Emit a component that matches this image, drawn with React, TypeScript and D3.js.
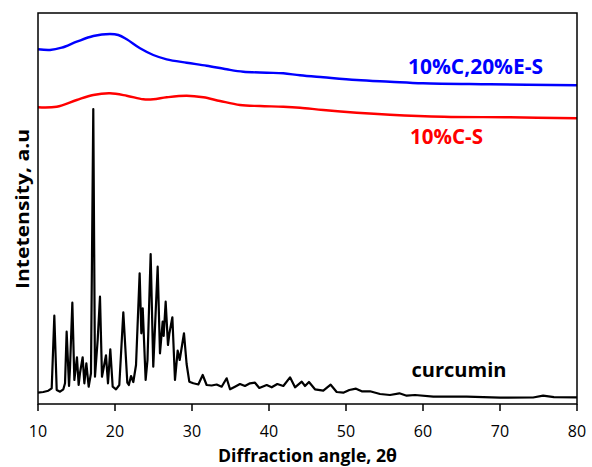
import React from "react";
import * as d3 from "d3";

const xTicks = [10, 20, 30, 40, 50, 60, 70, 80];

const curcumin2Theta = [
  10.0, 10.69, 11.34, 11.78, 12.12, 12.43, 12.86, 13.29, 13.51, 13.72, 14.03, 14.15, 14.46, 14.72, 15.06,
  15.28, 15.45, 15.8, 16.02, 16.28, 16.58, 16.88, 17.18, 17.4, 17.75, 18.05, 18.31, 18.83, 19.09, 19.39,
  19.7, 20.13, 20.56, 21.08, 21.6, 21.8, 22.08, 22.38, 22.73, 23.2, 23.42, 23.6, 23.98, 24.22, 24.63,
  24.97, 25.54, 25.84, 26.19, 26.32, 26.58, 26.88, 27.05, 27.45, 27.79, 28.14, 28.4, 28.96, 29.3, 29.65,
  30.17, 30.82, 31.39, 31.9, 32.55, 33.2, 33.85, 34.5, 34.94, 35.58, 36.23, 36.88, 37.53, 38.18, 38.74,
  39.7, 40.35, 41.08, 41.86, 42.73, 43.38, 44.25, 44.68, 45.19, 45.97, 47.05, 48.01, 48.79, 49.65, 50.43,
  51.3, 52.04, 53.12, 54.42, 55.71, 56.93, 57.88, 58.96, 61.34, 65.67, 70.0, 74.3, 75.6, 77.0, 80.0,
];
const curcuminI = [
  11.3, 12, 13.3, 15.7, 88.3, 14, 12.3, 14.7, 20.7, 72.3, 18, 35, 101.3, 24, 46.7,
  19, 30.7, 46.7, 20.7, 40.7, 17.3, 30.7, 295, 27.3, 64, 107.3, 27.3, 48.7, 20.7, 54.7,
  17.3, 14.7, 19, 91.7, 21.3, 19, 28, 22, 39, 130.7, 70.7, 95.7, 24, 44, 150,
  37.3, 137.3, 50.7, 82.3, 68, 102.3, 59, 70, 86.7, 24, 53.3, 44, 70.7, 40, 22.3,
  20.7, 19.5, 29, 19, 18.5, 19.5, 17.3, 25.7, 14.7, 17.3, 20, 18, 20.7, 21.3, 16,
  19, 16.7, 20, 18, 26.7, 16.7, 22.3, 18, 22, 14.7, 13.3, 19.3, 12, 11.3, 14,
  15.3, 12.7, 12.7, 10, 9, 10.7, 8.3, 9, 7.3, 7.3, 6.3, 6.5, 8.3, 6.8, 6.7,
];

const blend2Theta = [10.0, 11.56, 13.08, 15.03, 17.18, 19.35, 20.43, 21.52, 23.25, 24.97, 26.71, 29.31, 31.91, 34.51, 36.66, 39.7, 41.86, 44.03, 47.05, 51.39, 55.71, 60.0, 68.7, 80.0];
const blendI = [354.7, 354, 356.3, 362.3, 368, 370, 369, 364.7, 355.7, 349, 344.7, 341.3, 338.3, 334.7, 332.3, 331.3, 330.7, 328.7, 326.7, 324, 322.3, 320.7, 319.7, 318.7];

const cs2Theta = [10.0, 12.43, 15.03, 17.18, 19.35, 21.52, 23.68, 24.97, 26.71, 29.31, 31.47, 33.64, 36.23, 38.83, 41.86, 44.03, 47.05, 51.39, 55.71, 62.7, 71.3, 80.0];
const csI = [296.7, 297.3, 304, 309, 310.7, 308.3, 304.7, 304.7, 306.7, 308.3, 306.7, 303, 299, 298, 297.3, 296.3, 294, 291.3, 289.3, 287.3, 286.7, 285.7];

const W = 592;
const H = 467;
const L = 38, R = 577, T = 13, B = 404;

export default function App() {
  const x = d3.scaleLinear().domain([10, 80]).range([L, R]);
  const y = d3.scaleLinear().domain([0, 391]).range([B, T]);

  const lineLin = d3.line<[number, number]>().x((d) => x(d[0])).y((d) => y(d[1])).curve(d3.curveLinear);
  const lineSmooth = d3.line<[number, number]>().x((d) => x(d[0])).y((d) => y(d[1])).curve(d3.curveCatmullRom.alpha(0.5));

  const cur = curcumin2Theta.map((t, i) => [t, curcuminI[i]] as [number, number]);
  const blend = blend2Theta.map((t, i) => [t, blendI[i]] as [number, number]);
  const cs = cs2Theta.map((t, i) => [t, csI[i]] as [number, number]);

  const font = "'Open Sans', 'DejaVu Sans', sans-serif";

  return (
    <svg width={W} height={H} style={{ position: "absolute", left: 0, top: 0, background: "#fff" }}>
      <rect x={0} y={0} width={W} height={H} fill="#fff" />
      <path d={lineSmooth(blend) || ""} fill="none" stroke="#0000ff" strokeWidth={2.4} />
      <path d={lineSmooth(cs) || ""} fill="none" stroke="#ff0000" strokeWidth={2.4} />
      <path d={lineLin(cur) || ""} fill="none" stroke="#000" strokeWidth={2.2} strokeLinejoin="round" />
      <rect x={L} y={T} width={R - L} height={B - T} fill="none" stroke="#000" strokeWidth={1.5} />
      {xTicks.map((t) => (
        <g key={t}>
          <line x1={x(t)} x2={x(t)} y1={B} y2={B + 7} stroke="#000" strokeWidth={1.5} />
          <text x={x(t)} y={437} textAnchor="middle" fontFamily={font} fontSize={16} fill="#000">
            {t}
          </text>
        </g>
      ))}
      <text x={307.5} y={461.5} textAnchor="middle" fontFamily={font} fontWeight="bold" fontSize={18} textLength={179} lengthAdjust="spacingAndGlyphs" fill="#000">
        Diffraction angle, 2θ
      </text>
      <text transform={`translate(29,209) rotate(-90)`} textAnchor="middle" fontFamily={font} fontWeight="bold" fontSize={18} textLength={160} lengthAdjust="spacingAndGlyphs" fill="#000">
        Intetensity, a.u
      </text>
      <text x={408} y={73.5} fontFamily={font} fontWeight="bold" fontSize={21} textLength={135} lengthAdjust="spacingAndGlyphs" fill="#0000ff">
        10%C,20%E-S
      </text>
      <text x={410} y={143.5} fontFamily={font} fontWeight="bold" fontSize={21} textLength={73} lengthAdjust="spacingAndGlyphs" fill="#ff0000">
        10%C-S
      </text>
      <text x={411.5} y={377} fontFamily={font} fontWeight="bold" fontSize={20} textLength={95} lengthAdjust="spacingAndGlyphs" fill="#000">
        curcumin
      </text>
    </svg>
  );
}
